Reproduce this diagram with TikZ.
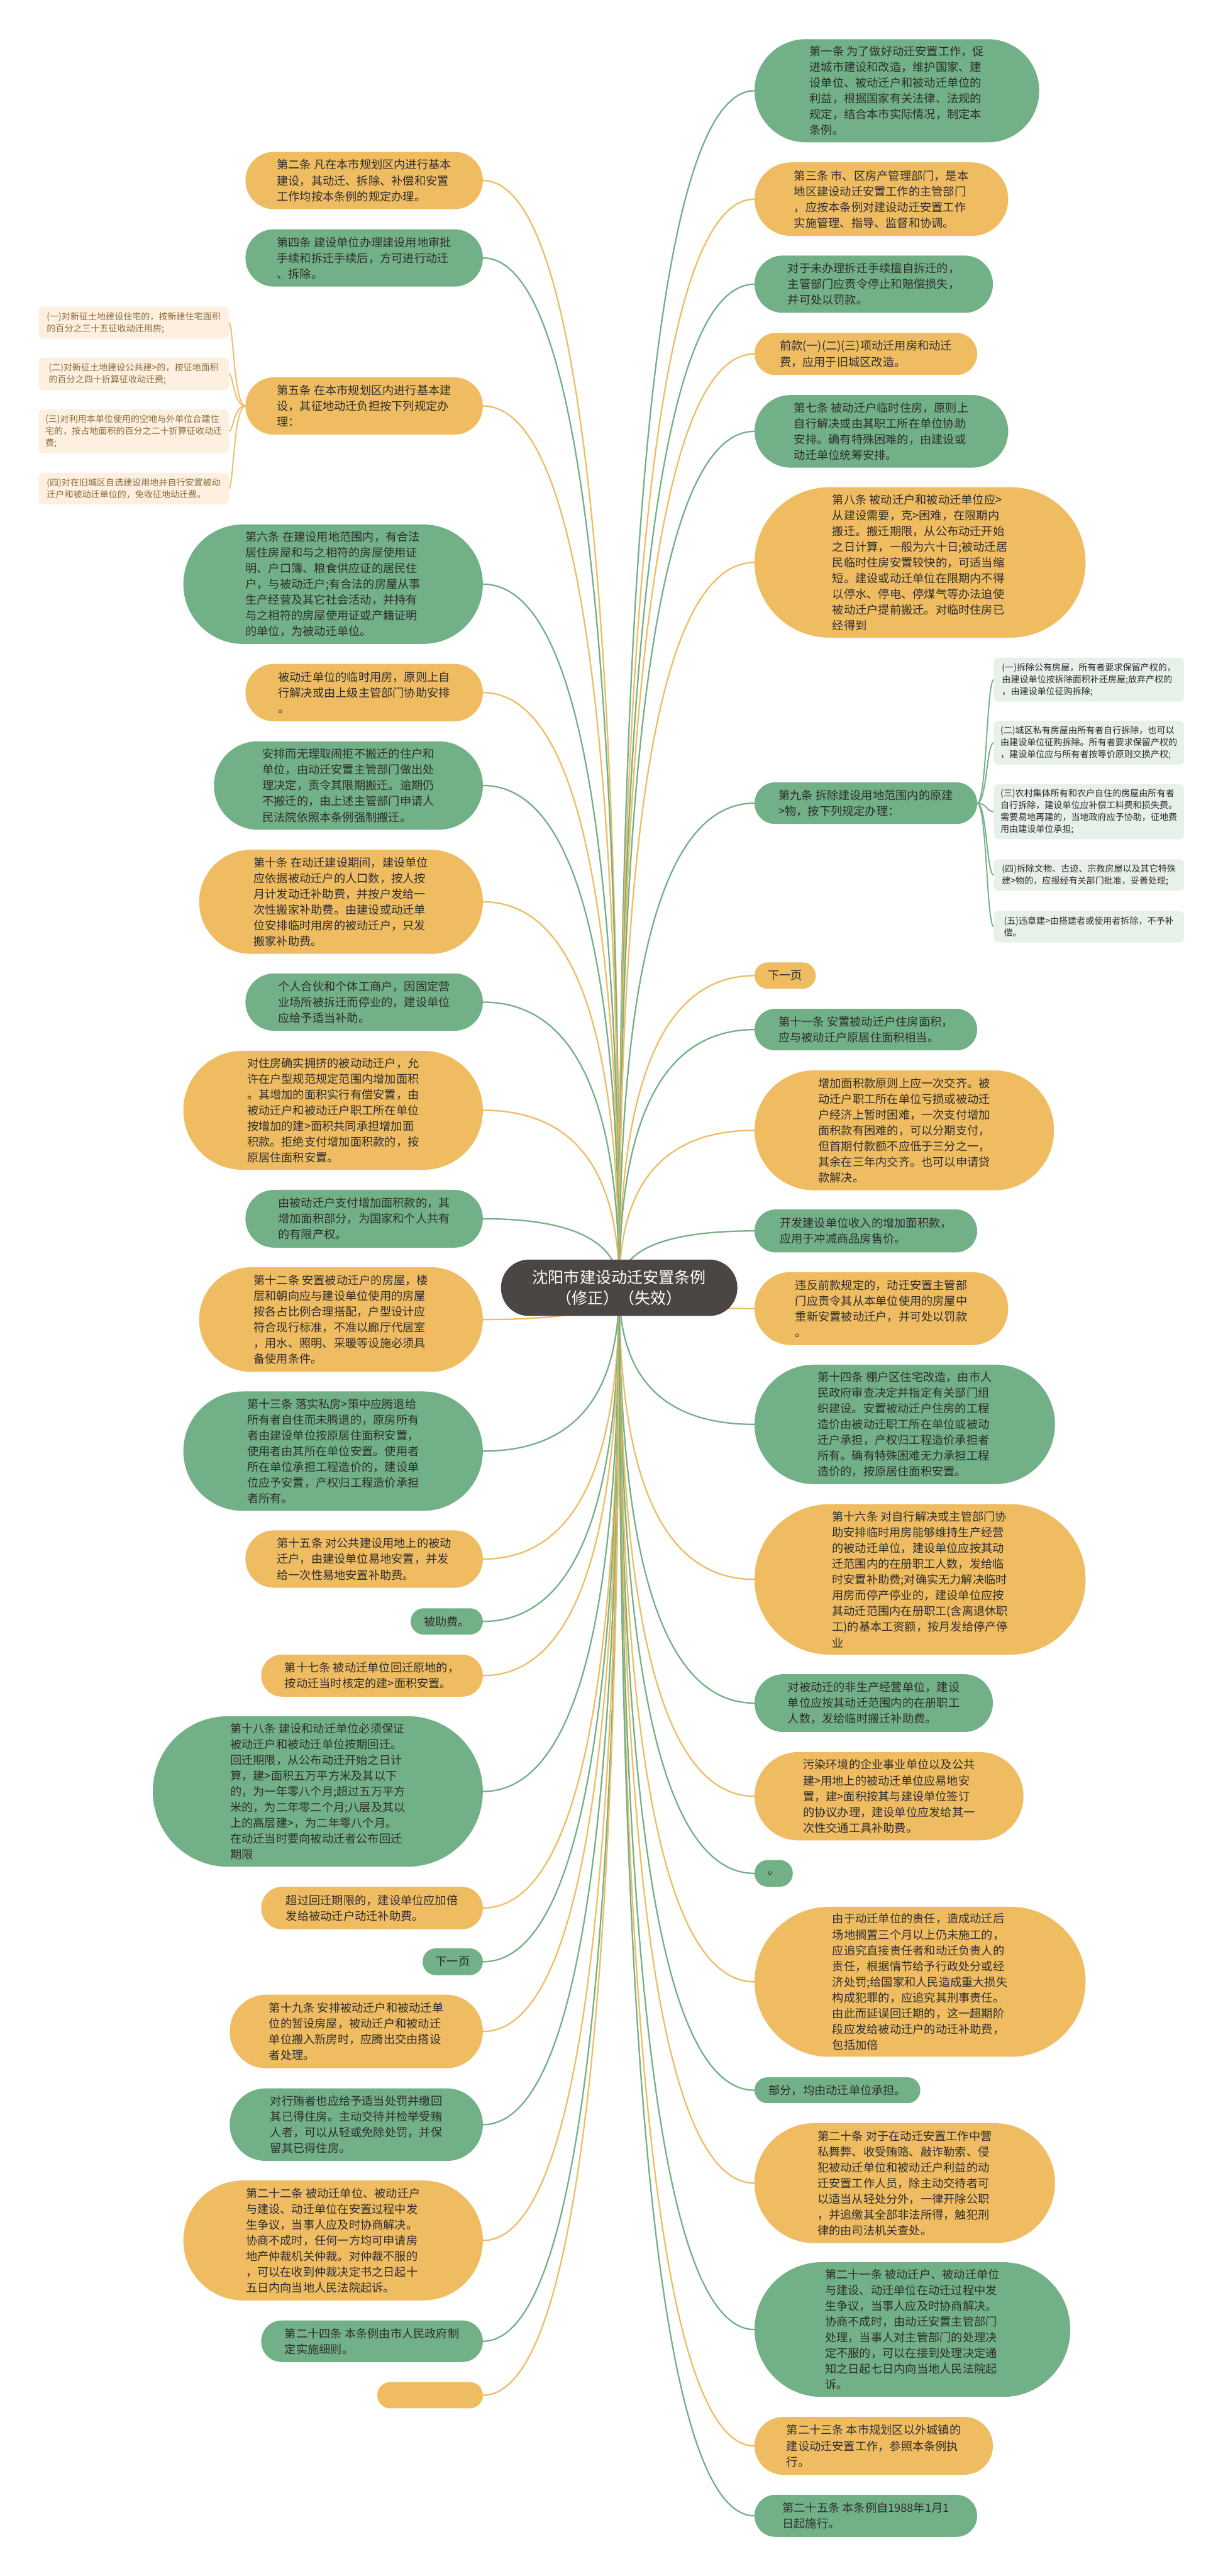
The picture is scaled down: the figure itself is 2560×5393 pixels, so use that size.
\documentclass[tikz,border=0pt]{standalone}
\usepackage{fontspec}
\newfontfamily\cjk{Noto Sans CJK SC}
\usetikzlibrary{calc}
\definecolor{gfill}{HTML}{72B087}
\definecolor{ofill}{HTML}{F0BC62}
\definecolor{rootfill}{HTML}{4B4644}
\definecolor{txt}{HTML}{2E2E2E}
\definecolor{lofill}{HTML}{FDF0E0}
\definecolor{lgfill}{HTML}{E8F0EA}
\definecolor{lotxt}{HTML}{8A6A3A}
\pgfdeclarelayer{bg}
\pgfdeclarelayer{edges}
\pgfsetlayers{bg,edges,main}
\tikzset{
  mainbox/.style={inner sep=0pt, align=left, text=txt, font=\cjk\fontsize{24}{33}\selectfont},
  gbox/.style={mainbox, fill=gfill},
  obox/.style={mainbox, fill=ofill},
  rootbox/.style={inner sep=0pt, align=center, text=white, fill=rootfill, font=\cjk\fontsize{33}{43}\selectfont},
  sz/.style n args={2}{minimum width=#1pt, minimum height=#2pt, rounded corners=#2*0.5pt-0.5pt},
  leafbox/.style={inner sep=0pt, align=left, rounded corners=9pt, font=\cjk\fontsize{18.5}{25}\selectfont, minimum width=398pt},
  lobox/.style={leafbox, fill=lofill, text=lotxt},
  lgbox/.style={leafbox, fill=lgfill, text=txt},
  gline/.style={draw=gfill, line width=3pt},
  oline/.style={draw=ofill, line width=3pt},
}
\newcommand\rootlink[3]{%
  \coordinate (ctl) at (root.center |- #2.#3);
  \draw[#1] (root.center) .. controls ($(root.center)!0.6667!(ctl)$) and ($(#2.#3)!0.6667!(ctl)$) .. (#2.#3);}
\begin{document}
\begin{tikzpicture}[x=1pt,y=-1pt]
\begin{pgfonlayer}{bg}
\fill[white] (0,0) rectangle (2560,5393);
\end{pgfonlayer}
\useasboundingbox (0,0) rectangle (2560,5393);

\node[rootbox, sz={495}{118}] (root) at (1296.5,2696) {沈阳市建设动迁安置条例\\（修正）（失效）};

% left column
\node[obox, sz={497}{120}] (L1) at (762.5,378) {第二条 凡在本市规划区内进行基本\\建设，其动迁、拆除、补偿和安置\\工作均按本条例的规定办理。};
\node[gbox, sz={497}{120}] (L2) at (762.5,540) {第四条 建设单位办理建设用地审批\\手续和拆迁手续后，方可进行动迁\\、拆除。};
\node[obox, sz={497}{120}] (L3) at (762.5,850) {第五条 在本市规划区内进行基本建\\设，其征地动迁负担按下列规定办\\理：};
\node[lobox, minimum height=67pt] (S1) at (280,675.5) {(一)对新征土地建设住宅的，按新建住宅面积\\的百分之三十五征收动迁用房;};
\node[lobox, minimum height=68pt] (S2) at (280,783) {(二)对新征土地建设公共建>的，按征地面积\\的百分之四十折算征收动迁费;};
\node[lobox, minimum height=92pt] (S3) at (280,903) {(三)对利用本单位使用的空地与外单位合建住\\宅的，按占地面积的百分之二十折算征收动迁\\费;};
\node[lobox, minimum height=66pt] (S4) at (280,1023) {(四)对在旧城区自选建设用地并自行安置被动\\迁户和被动迁单位的，免收征地动迁费。};
\node[gbox, sz={627}{250}] (L4) at (697.5,1223) {第六条 在建设用地范围内，有合法\\居住房屋和与之相符的房屋使用证\\明、户口簿、粮食供应证的居民住\\户，与被动迁户;有合法的房屋从事\\生产经营及其它社会活动，并持有\\与之相符的房屋使用证或产籍证明\\的单位，为被动迁单位。};
\node[obox, sz={497}{120}] (L5) at (762.5,1450) {被动迁单位的临时用房，原则上自\\行解决或由上级主管部门协助安排\\。};
\node[gbox, sz={563}{185}] (L6) at (729.5,1644.5) {安排而无理取闹拒不搬迁的住户和\\单位，由动迁安置主管部门做出处\\理决定，责令其限期搬迁。逾期仍\\不搬迁的，由上述主管部门申请人\\民法院依照本条例强制搬迁。};
\node[obox, sz={594}{218}] (L7) at (714,1888) {第十条 在动迁建设期间，建设单位\\应依据被动迁户的人口数，按人按\\月计发动迁补助费，并按户发给一\\次性搬家补助费。由建设或动迁单\\位安排临时用房的被动迁户，只发\\搬家补助费。};
\node[gbox, sz={497}{120}] (L8) at (762.5,2098) {个人合伙和个体工商户，因固定营\\业场所被拆迁而停业的，建设单位\\应给予适当补助。};
\node[obox, sz={627}{249}] (L9) at (697.5,2324.5) {对住房确实拥挤的被动动迁户，允\\许在户型规范规定范围内增加面积\\。其增加的面积实行有偿安置，由\\被动迁户和被动迁户职工所在单位\\按增加的建>面积共同承担增加面\\积款。拒绝支付增加面积款的，按\\原居住面积安置。};
\node[gbox, sz={497}{121}] (L10) at (762.5,2551.5) {由被动迁户支付增加面积款的，其\\增加面积部分，为国家和个人共有\\的有限产权。};
\node[obox, sz={594}{219}] (L11) at (714,2762.5) {第十二条 安置被动迁户的房屋，楼\\层和朝向应与建设单位使用的房屋\\按各占比例合理搭配，户型设计应\\符合现行标准，不准以廊厅代居室\\，用水、照明、采暖等设施必须具\\备使用条件。};
\node[gbox, sz={627}{250}] (L12) at (697.5,3038) {第十三条 落实私房>策中应腾退给\\所有者自住而未腾退的，原房所有\\者由建设单位按原居住面积安置，\\使用者由其所在单位安置。使用者\\所在单位承担工程造价的，建设单\\位应予安置，产权归工程造价承担\\者所有。};
\node[obox, sz={497}{120}] (L13) at (762.5,3264) {第十五条 对公共建设用地上的被动\\迁户，由建设单位易地安置，并发\\给一次性易地安置补助费。};
\node[gbox, sz={151}{55}] (L14) at (935.5,3394.5) {被助费。};
\node[obox, sz={464}{88}] (L15) at (779,3508) {第十七条 被动迁单位回迁原地的，\\按动迁当时核定的建>面积安置。};
\node[gbox, sz={691}{315}] (L16) at (665.5,3750.5) {第十八条 建设和动迁单位必须保证\\被动迁户和被动迁单位按期回迁。\\回迁期限，从公布动迁开始之日计\\算，建>面积五万平方米及其以下\\的，为一年零八个月;超过五万平方\\米的，为二年零二个月;八层及其以\\上的高层建>，为二年零八个月。\\在动迁当时要向被动迁者公布回迁\\期限};
\node[obox, sz={464}{89}] (L17) at (779,3994.5) {超过回迁期限的，建设单位应加倍\\发给被动迁户动迁补助费。};
\node[gbox, sz={126}{56}] (L18) at (948,4107) {下一页};
\node[obox, sz={530}{154}] (L19) at (746,4253) {第十九条 安排被动迁户和被动迁单\\位的暂设房屋，被动迁户和被动迁\\单位搬入新房时，应腾出交由搭设\\者处理。};
\node[gbox, sz={530}{152}] (L20) at (746,4448) {对行贿者也应给予适当处罚并缴回\\其已得住房。主动交待并检举受贿\\人者，可以从轻或免除处罚，并保\\留其已得住房。};
\node[obox, sz={627}{251}] (L21) at (697.5,4690.5) {第二十二条 被动迁单位、被动迁户\\与建设、动迁单位在安置过程中发\\生争议，当事人应及时协商解决。\\协商不成时，任何一方均可申请房\\地产仲裁机关仲裁。对仲裁不服的\\，可以在收到仲裁决定书之日起十\\五日内向当地人民法院起诉。};
\node[gbox, sz={464}{87}] (L22) at (779,4901.5) {第二十四条 本条例由市人民政府制\\定实施细则。};
\node[obox, sz={221}{55}] (L23) at (900.5,5014.5) {};

% right column
\node[gbox, sz={596}{216}] (R1) at (1878,190) {第一条 为了做好动迁安置工作，促\\进城市建设和改造，维护国家、建\\设单位、被动迁户和被动迁单位的\\利益，根据国家有关法律、法规的\\规定，结合本市实际情况，制定本\\条例。};
\node[obox, sz={531}{154}] (R2) at (1845.5,417) {第三条 市、区房产管理部门，是本\\地区建设动迁安置工作的主管部门\\，应按本条例对建设动迁安置工作\\实施管理、指导、监督和协调。};
\node[gbox, sz={499}{120}] (R3) at (1829.5,595) {对于未办理拆迁手续擅自拆迁的，\\主管部门应责令停止和赔偿损失，\\并可处以罚款。};
\node[obox, sz={466}{88}] (R4) at (1813,741) {前款(一)(二)(三)项动迁用房和动迁\\费，应用于旧城区改造。};
\node[gbox, sz={531}{152}] (R5) at (1845.5,903) {第七条 被动迁户临时住房，原则上\\自行解决或由其职工所在单位协助\\安排。确有特殊困难的，由建设或\\动迁单位统筹安排。};
\node[obox, sz={693}{315}] (R6) at (1926.5,1177.5) {第八条 被动迁户和被动迁单位应>\\从建设需要，克>困难，在限期内\\搬迁。搬迁期限，从公布动迁开始\\之日计算，一般为六十日;被动迁居\\民临时住房安置较快的，可适当缩\\短。建设或动迁单位在限期内不得\\以停水、停电、停煤气等办法迫使\\被动迁户提前搬迁。对临时住房已\\经得到};
\node[gbox, sz={466}{87}] (R7) at (1813,1681.5) {第九条 拆除建设用地范围内的原建\\>物，按下列规定办理：};
\node[lgbox, minimum height=92pt] (T1) at (2280,1423) {(一)拆除公有房屋，所有者要求保留产权的，\\由建设单位按拆除面积补还房屋;放弃产权的\\，由建设单位征购拆除;};
\node[lgbox, minimum height=92pt] (T2) at (2280,1555) {(二)城区私有房屋由所有者自行拆除，也可以\\由建设单位征购拆除。所有者要求保留产权的\\，建设单位应与所有者按等价原则交换产权;};
\node[lgbox, minimum height=115pt] (T3) at (2280,1699.5) {(三)农村集体所有和农户自住的房屋由所有者\\自行拆除，建设单位应补偿工料费和损失费。\\需要易地再建的，当地政府应予协助，征地费\\用由建设单位承担;};
\node[lgbox, minimum height=66pt] (T4) at (2280,1832) {(四)拆除文物、古迹、宗教房屋以及其它特殊\\建>物的，应报经有关部门批准，妥善处理;};
\node[lgbox, minimum height=66pt] (T5) at (2280,1940) {(五)违章建>由搭建者或使用者拆除，不予补\\偿。};
\node[obox, sz={128}{55}] (R8) at (1644,2042.5) {下一页};
\node[gbox, sz={466}{87}] (R9) at (1813,2155.5) {第十一条 安置被动迁户住房面积，\\应与被动迁户原居住面积相当。};
\node[obox, sz={627}{251}] (R10) at (1893.5,2366.5) {增加面积款原则上应一次交齐。被\\动迁户职工所在单位亏损或被动迁\\户经济上暂时困难，一次支付增加\\面积款有困难的，可以分期支付，\\但首期付款额不应低于三分之一，\\其余在三年内交齐。也可以申请贷\\款解决。};
\node[gbox, sz={466}{90}] (R11) at (1813,2577) {开发建设单位收入的增加面积款，\\应用于冲减商品房售价。};
\node[obox, sz={531}{153}] (R12) at (1845.5,2739.5) {违反前款规定的，动迁安置主管部\\门应责令其从本单位使用的房屋中\\重新安置被动迁户，并可处以罚款\\。};
\node[gbox, sz={629}{250}] (R13) at (1894.5,2982) {第十四条 棚户区住宅改造，由市人\\民政府审查决定并指定有关部门组\\织建设。安置被动迁户住房的工程\\造价由被动迁职工所在单位或被动\\迁户承担，产权归工程造价承担者\\所有。确有特殊困难无力承担工程\\造价的，按原居住面积安置。};
\node[obox, sz={693}{315}] (R14) at (1926.5,3306.5) {第十六条 对自行解决或主管部门协\\助安排临时用房能够维持生产经营\\的被动迁单位，建设单位应按其动\\迁范围内的在册职工人数，发给临\\时安置补助费;对确实无力解决临时\\用房而停产停业的，建设单位应按\\其动迁范围内在册职工(含离退休职\\工)的基本工资额，按月发给停产停\\业};
\node[gbox, sz={499}{121}] (R15) at (1829.5,3565.5) {对被动迁的非生产经营单位，建设\\单位应按其动迁范围内的在册职工\\人数，发给临时搬迁补助费。};
\node[obox, sz={563}{185}] (R16) at (1861.5,3760.5) {污染环境的企业事业单位以及公共\\建>用地上的被动迁单位应易地安\\置，建>面积按其与建设单位签订\\的协议办理，建设单位应发给其一\\次性交通工具补助费。};
\node[gbox, sz={80}{56}] (R17) at (1620,3922) {。};
\node[obox, sz={693}{314}] (R18) at (1926.5,4149) {由于动迁单位的责任，造成动迁后\\场地搁置三个月以上仍未施工的，\\应追究直接责任者和动迁负责人的\\责任，根据情节给予行政处分或经\\济处罚;给国家和人民造成重大损失\\构成犯罪的，应追究其刑事责任。\\由此而延误回迁期的，这一超期阶\\段应发给被动迁户的动迁补助费，\\包括加倍};
\node[gbox, sz={347}{54}] (R19) at (1753.5,4376) {部分，均由动迁单位承担。};
\node[obox, sz={629}{251}] (R20) at (1894.5,4570.5) {第二十条 对于在动迁安置工作中营\\私舞弊、收受贿赂、敲诈勒索、侵\\犯被动迁单位和被动迁户利益的动\\迁安置工作人员，除主动交待者可\\以适当从轻处分外，一律开除公职\\，并追缴其全部非法所得，触犯刑\\律的由司法机关查处。};
\node[gbox, sz={661}{282}] (R21) at (1910.5,4877) {第二十一条 被动迁户、被动迁单位\\与建设、动迁单位在动迁过程中发\\生争议，当事人应及时协商解决。\\协商不成时，由动迁安置主管部门\\处理，当事人对主管部门的处理决\\定不服的，可以在接到处理决定通\\知之日起七日内向当地人民法院起\\诉。};
\node[obox, sz={499}{121}] (R22) at (1829.5,5120.5) {第二十三条 本市规划区以外城镇的\\建设动迁安置工作，参照本条例执\\行。};
\node[gbox, sz={466}{88}] (R23) at (1813,5267) {第二十五条 本条例自1988年1月1\\日起施行。};

\coordinate (trunkL) at (489,0);
\coordinate (trunkR) at (2066,0);

\begin{pgfonlayer}{edges}
\rootlink{oline}{L1}{east}
\rootlink{gline}{L2}{east}
\rootlink{oline}{L3}{east}
\rootlink{gline}{L4}{east}
\rootlink{oline}{L5}{east}
\rootlink{gline}{L6}{east}
\rootlink{oline}{L7}{east}
\rootlink{gline}{L8}{east}
\rootlink{oline}{L9}{east}
\rootlink{gline}{L10}{east}
\rootlink{oline}{L11}{east}
\rootlink{gline}{L12}{east}
\rootlink{oline}{L13}{east}
\rootlink{gline}{L14}{east}
\rootlink{oline}{L15}{east}
\rootlink{gline}{L16}{east}
\rootlink{oline}{L17}{east}
\rootlink{gline}{L18}{east}
\rootlink{oline}{L19}{east}
\rootlink{gline}{L20}{east}
\rootlink{oline}{L21}{east}
\rootlink{gline}{L22}{east}
\rootlink{oline}{L23}{east}
\rootlink{gline}{R1}{west}
\rootlink{oline}{R2}{west}
\rootlink{gline}{R3}{west}
\rootlink{oline}{R4}{west}
\rootlink{gline}{R5}{west}
\rootlink{oline}{R6}{west}
\rootlink{gline}{R7}{west}
\rootlink{oline}{R8}{west}
\rootlink{gline}{R9}{west}
\rootlink{oline}{R10}{west}
\rootlink{gline}{R11}{west}
\rootlink{oline}{R12}{west}
\rootlink{gline}{R13}{west}
\rootlink{oline}{R14}{west}
\rootlink{gline}{R15}{west}
\rootlink{oline}{R16}{west}
\rootlink{gline}{R17}{west}
\rootlink{oline}{R18}{west}
\rootlink{gline}{R19}{west}
\rootlink{oline}{R20}{west}
\rootlink{gline}{R21}{west}
\rootlink{oline}{R22}{west}
\rootlink{gline}{R23}{west}
\foreach \c in {S1,S2,S3,S4}
  \draw[draw=ofill, line width=2.5pt] (L3.west) .. controls (L3.west -| trunkL) and (\c.east -| trunkL) .. (\c.east);
\foreach \c in {T1,T2,T3,T4,T5}
  \draw[draw=gfill, line width=2.5pt] (R7.east) .. controls (R7.east -| trunkR) and (\c.west -| trunkR) .. (\c.west);
\end{pgfonlayer}
\end{tikzpicture}
\end{document}
